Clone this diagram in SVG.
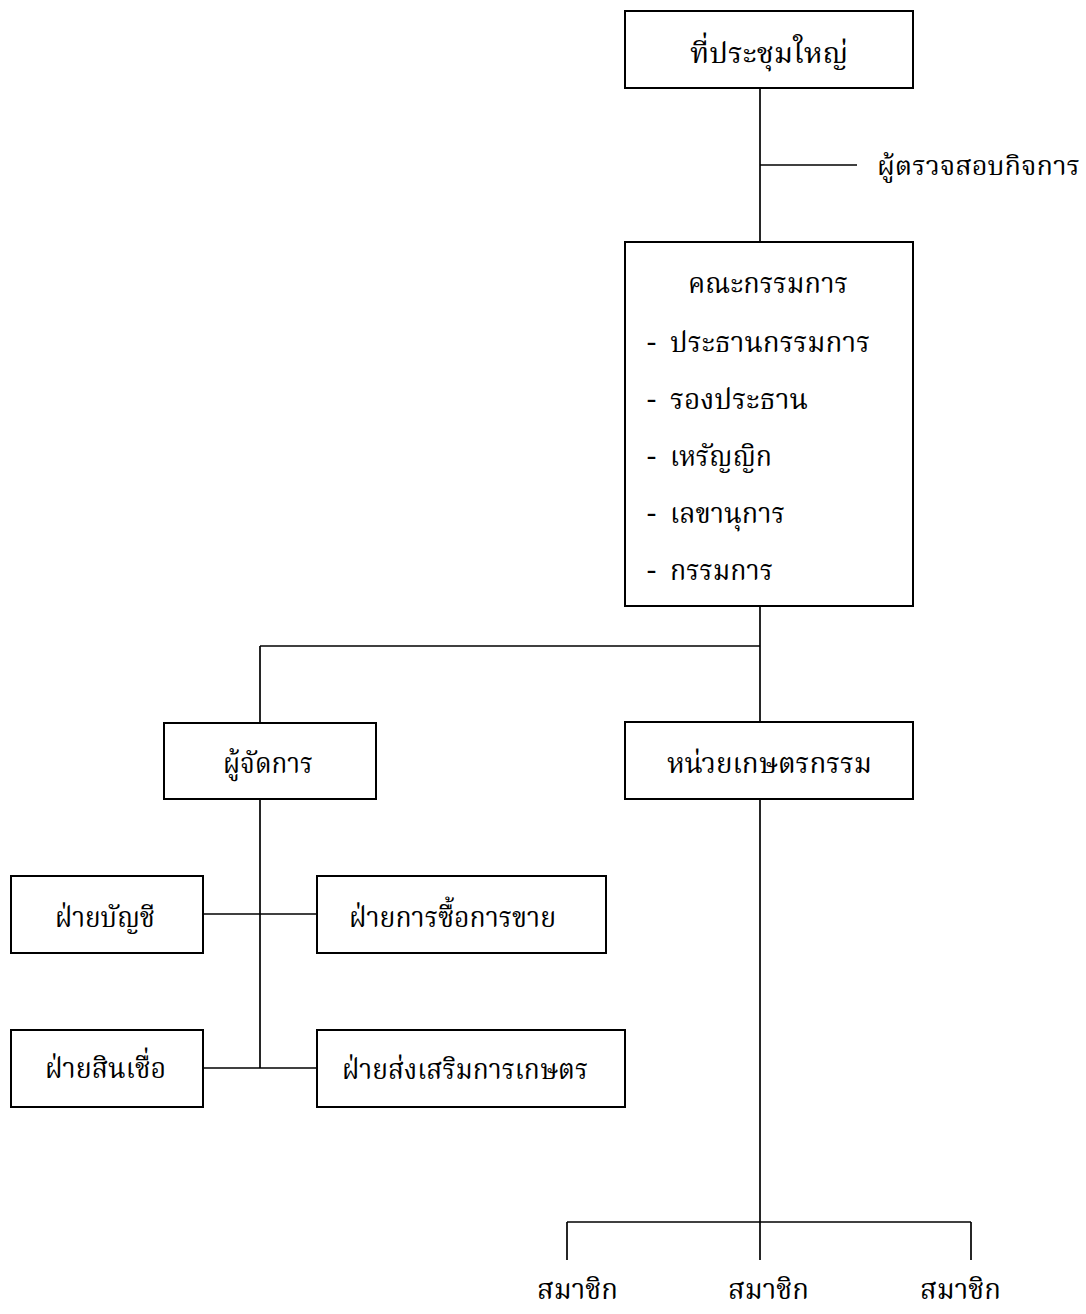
<svg xmlns="http://www.w3.org/2000/svg" width="1086" height="1314" viewBox="0 0 1086 1314">
<style>
rect.box{fill:#fff;stroke:#000;stroke-width:2}
.conn line{stroke:#000;stroke-width:1.7}
text{font-family:"Noto Serif Thai","Noto Sans Thai","Noto Sans","DejaVu Sans",sans-serif;font-size:29px;fill:#000}
text.side{font-size:27px}
</style>
<rect width="1086" height="1314" fill="#fff"/>
<g class="conn" id="connectors">
<line x1="760" y1="88" x2="760" y2="242"/>
<line x1="760" y1="165" x2="857" y2="165"/>
<line x1="760" y1="606" x2="760" y2="722"/>
<line x1="260" y1="646" x2="760" y2="646"/>
<line x1="260" y1="646" x2="260" y2="723"/>
<line x1="260" y1="799" x2="260" y2="1068"/>
<line x1="203" y1="914" x2="317" y2="914"/>
<line x1="203" y1="1068" x2="317" y2="1068"/>
<line x1="760" y1="799" x2="760" y2="1222"/>
<line x1="567" y1="1222" x2="971" y2="1222"/>
<line x1="567" y1="1222" x2="567" y2="1260"/>
<line x1="760" y1="1222" x2="760" y2="1260"/>
<line x1="971" y1="1222" x2="971" y2="1260"/>
</g>
<g id="general-meeting"><rect class="box" x="625" y="11" width="288" height="77"/><text x="690" y="63" textLength="158" lengthAdjust="spacingAndGlyphs">ที่ประชุมใหญ่</text></g>
<g id="auditor"><text class="side" x="877" y="175" textLength="203" lengthAdjust="spacingAndGlyphs">ผู้ตรวจสอบกิจการ</text></g>
<g id="committee"><rect class="box" x="625" y="242" width="288" height="364"/>
<text x="688" y="293" textLength="160" lengthAdjust="spacingAndGlyphs">คณะกรรมการ</text>
<text x="647" y="352">- <tspan x="670" textLength="200" lengthAdjust="spacingAndGlyphs">ประธานกรรมการ</tspan></text>
<text x="647" y="409">- <tspan x="670" textLength="138" lengthAdjust="spacingAndGlyphs">รองประธาน</tspan></text>
<text x="647" y="466">- <tspan x="670" textLength="102" lengthAdjust="spacingAndGlyphs">เหรัญญิก</tspan></text>
<text x="647" y="523">- <tspan x="670" textLength="115" lengthAdjust="spacingAndGlyphs">เลขานุการ</tspan></text>
<text x="647" y="580">- <tspan x="670" textLength="103" lengthAdjust="spacingAndGlyphs">กรรมการ</tspan></text>
</g>
<g id="manager"><rect class="box" x="164" y="723" width="212" height="76"/><text x="223" y="773" textLength="90" lengthAdjust="spacingAndGlyphs">ผู้จัดการ</text></g>
<g id="agri-unit"><rect class="box" x="625" y="722" width="288" height="77"/><text x="667" y="773" textLength="205" lengthAdjust="spacingAndGlyphs">หน่วยเกษตรกรรม</text></g>
<g id="accounting"><rect class="box" x="11" y="876" width="192" height="77"/><text x="55" y="927" textLength="100" lengthAdjust="spacingAndGlyphs">ฝ่ายบัญชี</text></g>
<g id="trading"><rect class="box" x="317" y="876" width="289" height="77"/><text x="349" y="927" textLength="207" lengthAdjust="spacingAndGlyphs">ฝ่ายการซื้อการขาย</text></g>
<g id="credit"><rect class="box" x="11" y="1030" width="192" height="77"/><text x="45" y="1078" textLength="121" lengthAdjust="spacingAndGlyphs">ฝ่ายสินเชื่อ</text></g>
<g id="promotion"><rect class="box" x="317" y="1030" width="308" height="77"/><text x="342" y="1079" textLength="246" lengthAdjust="spacingAndGlyphs">ฝ่ายส่งเสริมการเกษตร</text></g>
<g id="member-1"><text x="537" y="1299" textLength="81" lengthAdjust="spacingAndGlyphs">สมาชิก</text></g>
<g id="member-2"><text x="728" y="1299" textLength="81" lengthAdjust="spacingAndGlyphs">สมาชิก</text></g>
<g id="member-3"><text x="920" y="1299" textLength="81" lengthAdjust="spacingAndGlyphs">สมาชิก</text></g>
</svg>
